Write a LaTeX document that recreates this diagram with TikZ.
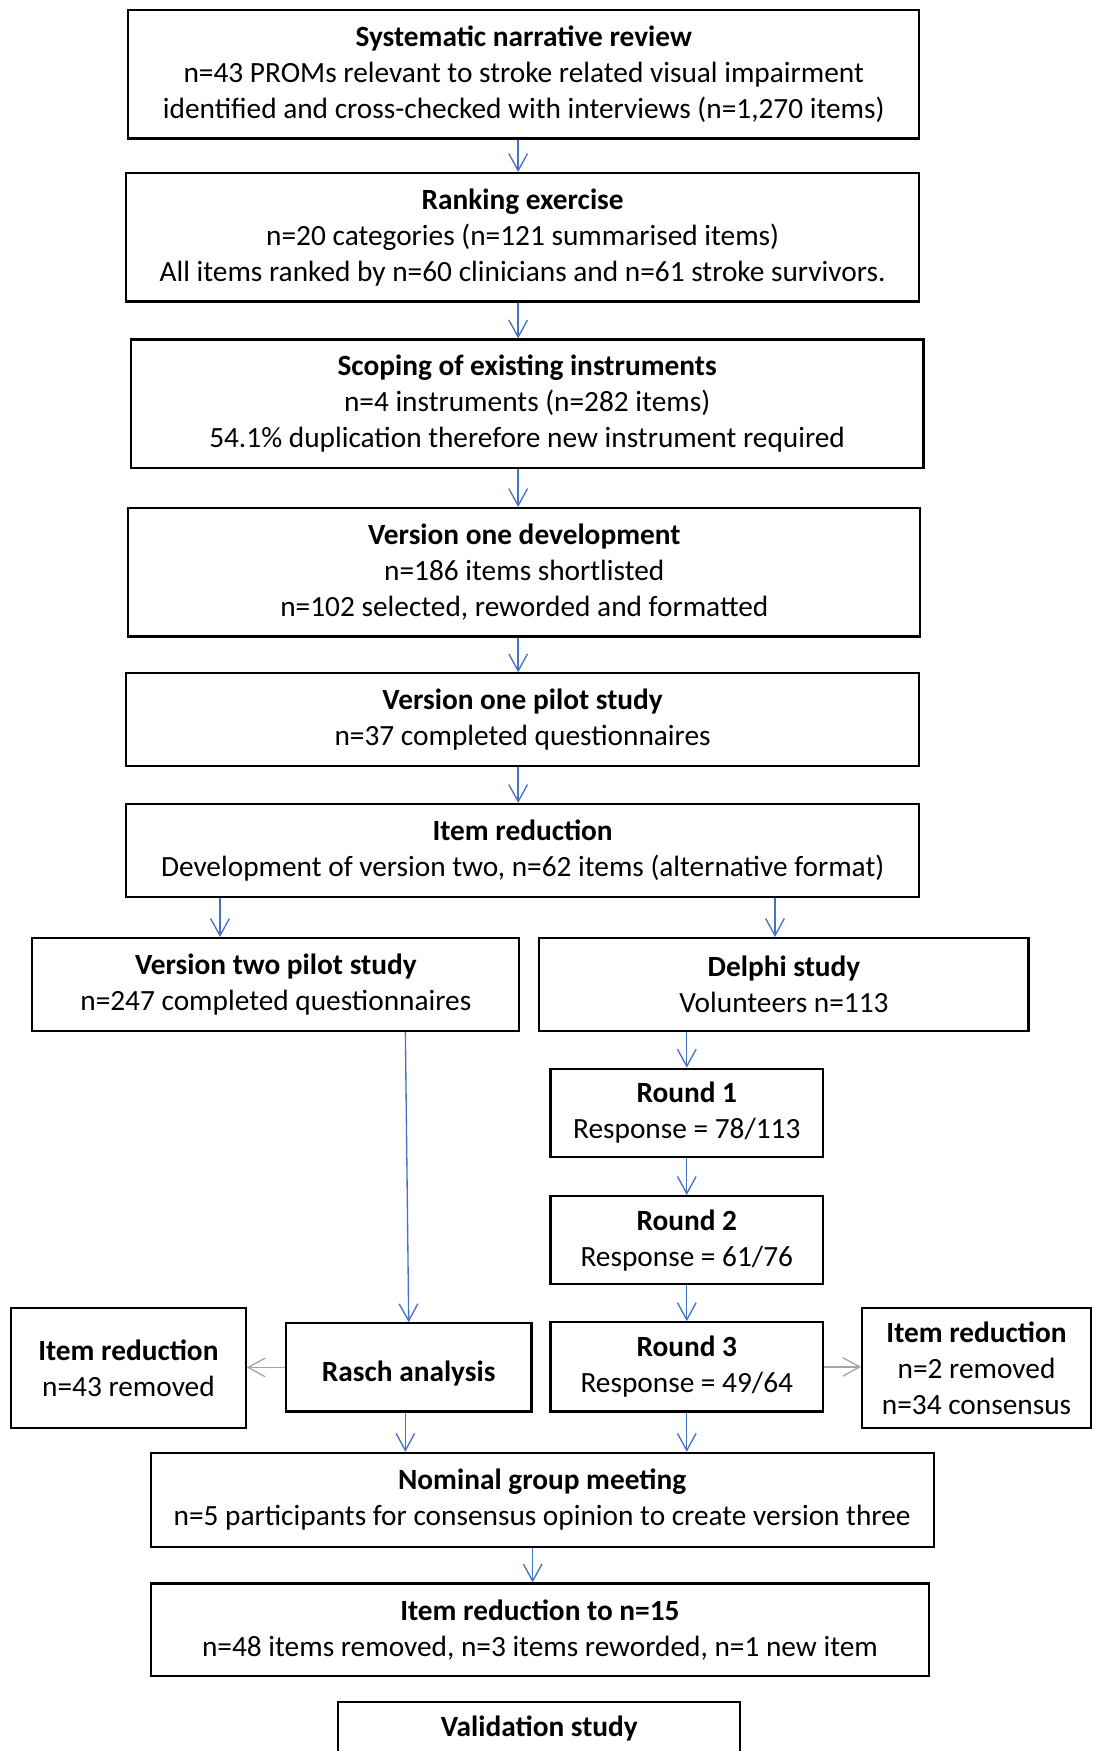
\documentclass[tikz,border=0pt]{standalone}
\usepackage{fontspec}
\setmainfont{Carlito}
\usetikzlibrary{arrows.meta}

% one unit = one pixel of the (shrunk) reference
\def\u{0.41875pt}
\definecolor{flowblue}{RGB}{68,114,196}
\definecolor{sidegray}{RGB}{165,165,165}

\tikzset{
    box/.style={draw, line width=0.8pt, align=center, inner sep=2pt,
        font=\fontsize{11pt}{13.5pt}\selectfont,
        execute at begin node={\rule{0pt}{12.6pt}}},
    flow/.style={flowblue, line width=0.5pt,
        -{Straight Barb[length=6.4pt, width=7pt]}},
    side/.style={sidegray, line width=0.5pt,
        -{Straight Barb[length=6.4pt, width=7pt]}}
}

\begin{document}
\begin{tikzpicture}[x=\u, y=-\u]
    % --- canvas ---
    \useasboundingbox (0,0) rectangle (978,1568);

    % --- columns used by the arrows ---
    \coordinate (colA) at (464,0);
    \coordinate (colL) at (197,0);
    \coordinate (colR) at (694,0);
    \coordinate (colD) at (615,0);
    \coordinate (colRa) at (363,0);
    \coordinate (colN) at (477,0);

    % --- main chain ---
    \node[box, minimum width=708*\u, minimum height=115*\u] (sys) at (469,66.5)
        {\textbf{Systematic narrative review}\\
         n=43 PROMs relevant to stroke related visual impairment\\
         identified and cross-checked with interviews (n=1,270 items)};
    \node[box, minimum width=710*\u, minimum height=115*\u] (rank) at (468,212.5)
        {\textbf{Ranking exercise}\\
         n=20 categories (n=121 summarised items)\\
         All items ranked by n=60 clinicians and n=61 stroke survivors.};
    \node[box, minimum width=710*\u, minimum height=115*\u] (scope) at (472,361.5)
        {\textbf{Scoping of existing instruments}\\
         n=4 instruments (n=282 items)\\
         54.1\% duplication therefore new instrument required};
    \node[box, minimum width=709*\u, minimum height=115*\u] (vone) at (469.5,512.5)
        {\textbf{Version one development}\\
         n=186 items shortlisted\\
         n=102 selected, reworded and formatted};
    \node[box, minimum width=710*\u, minimum height=83*\u] (vpilot) at (468,644.5)
        {\textbf{Version one pilot study}\\
         n=37 completed questionnaires};
    \node[box, minimum width=710*\u, minimum height=83*\u] (ired) at (468,761.5)
        {\textbf{Item reduction}\\
         Development of version two, n=62 items (alternative format)};

    % --- two branches ---
    \node[box, minimum width=436*\u, minimum height=83*\u] (vtwo) at (247,881.5)
        {\textbf{Version two pilot study}\\
         n=247 completed questionnaires};
    \node[box, minimum width=438*\u, minimum height=83*\u] (delphi) at (702,881.5)
        {\textbf{Delphi study}\\
         Volunteers n=113};

    % --- Delphi rounds ---
    \node[box, minimum width=244*\u, minimum height=79*\u] (rone) at (615,996.5)
        {\textbf{Round 1}\\ Response = 78/113};
    \node[box, minimum width=244*\u, minimum height=79*\u] (rtwo) at (615,1110.5)
        {\textbf{Round 2}\\ Response = 61/76};
    \node[box, minimum width=244*\u, minimum height=80*\u] (rthree) at (615,1224)
        {\textbf{Round 3}\\ Response = 49/64};

    % --- Rasch and side boxes ---
    \node[box, minimum width=220*\u, minimum height=79*\u] (rasch) at (366,1224.5)
        {\textbf{Rasch analysis}};
    \node[box, minimum width=210*\u, minimum height=108*\u] (iredl) at (115,1225)
        {\textbf{Item reduction}\\ n=43 removed};
    \node[box, minimum width=205*\u, minimum height=108*\u] (iredr) at (874.5,1225)
        {\textbf{Item reduction}\\ n=2 removed\\ n=34 consensus};

    % --- bottom chain ---
    \node[box, minimum width=701*\u, minimum height=84*\u] (ngm) at (485.5,1343)
        {\textbf{Nominal group meeting}\\
         n=5 participants for consensus opinion to create version three};
    \node[box, minimum width=697*\u, minimum height=83*\u] (iredn) at (483.5,1459.5)
        {\textbf{Item reduction to n=15}\\
         n=48 items removed, n=3 items reworded, n=1 new item};
    % runs off the bottom edge
    \node[box, anchor=north, minimum width=360*\u, minimum height=85*\u] (valid) at (483,1523)
        {\textbf{Validation study}\\ \strut};

    % --- arrows ---
    \draw[flow] (sys.south -| colA) -- (rank.north -| colA);
    \draw[flow] (rank.south -| colA) -- (scope.north -| colA);
    \draw[flow] (scope.south -| colA) -- (vone.north -| colA);
    \draw[flow] (vone.south -| colA) -- (vpilot.north -| colA);
    \draw[flow] (vpilot.south -| colA) -- (ired.north -| colA);
    \draw[flow] (ired.south -| colL) -- (vtwo.north -| colL);
    \draw[flow] (ired.south -| colR) -- (delphi.north -| colR);
    \draw[flow] (delphi.south -| colD) -- (rone.north -| colD);
    \draw[flow] (rone.south -| colD) -- (rtwo.north -| colD);
    \draw[flow] (rtwo.south -| colD) -- (rthree.north -| colD);
    \draw[flow] (vtwo.south -| colRa) -- (rasch.north);
    \draw[flow] (rasch.south -| colRa) -- (ngm.north -| colRa);
    \draw[flow] (rthree.south -| colD) -- (ngm.north -| colD);
    \draw[flow] (ngm.south -| colN) -- (iredn.north -| colN);

    % side arrows (gray)
    \draw[side] (rasch.west) -- (iredl.east |- rasch.west);
    \draw[side] (rthree.east) -- (iredr.west |- rthree.east);
\end{tikzpicture}
\end{document}
